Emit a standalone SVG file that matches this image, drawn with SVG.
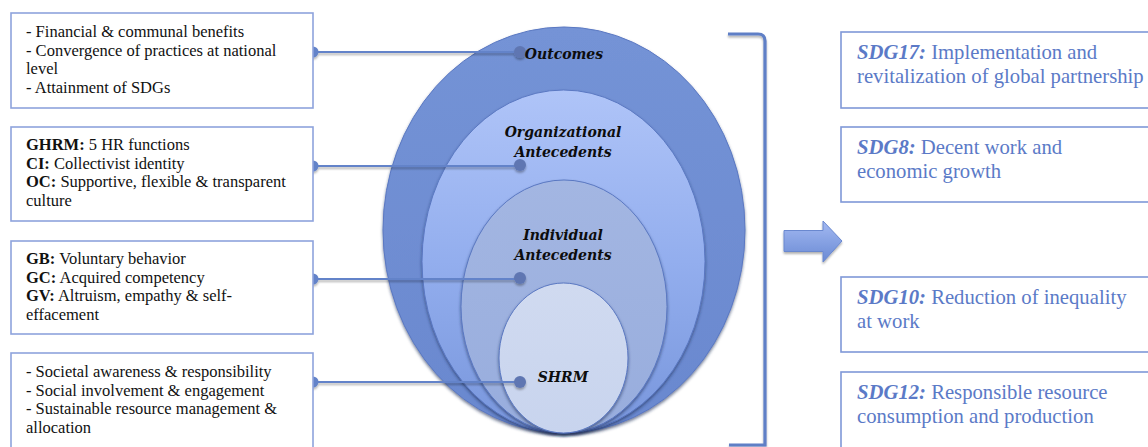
<svg xmlns="http://www.w3.org/2000/svg" width="1148" height="447" viewBox="0 0 1148 447">
<defs>
<linearGradient id="gOut" x1="0" y1="0" x2="0" y2="1"><stop offset="0" stop-color="#7493d6"/><stop offset="1" stop-color="#6a88cf"/></linearGradient>
<linearGradient id="gOrg" x1="0" y1="0" x2="0" y2="1"><stop offset="0" stop-color="#afc4f8"/><stop offset="0.5" stop-color="#93aeee"/><stop offset="1" stop-color="#7896dc"/></linearGradient>
<linearGradient id="gInd" x1="0" y1="0" x2="0" y2="1"><stop offset="0" stop-color="#a3b6e2"/><stop offset="1" stop-color="#98addd"/></linearGradient>
<linearGradient id="gShrm" x1="0" y1="0" x2="0" y2="1"><stop offset="0" stop-color="#d0daf0"/><stop offset="1" stop-color="#c8d4ee"/></linearGradient>
<linearGradient id="gArrow" x1="0" y1="0" x2="0" y2="1"><stop offset="0" stop-color="#a3b9f2"/><stop offset="1" stop-color="#6a8ad4"/></linearGradient>
<filter id="sh" x="-10%" y="-10%" width="120%" height="125%"><feDropShadow dx="0" dy="2" stdDeviation="1.5" flood-color="#1a2a55" flood-opacity="0.6"/></filter>
<filter id="shs" x="-10%" y="-50%" width="120%" height="200%"><feDropShadow dx="0" dy="2" stdDeviation="1.2" flood-color="#000" flood-opacity="0.3"/></filter>
</defs>
<style>
.lbox{fill:#fff;stroke:#8ea3dc;stroke-width:1.6}
.rbox{fill:#fff;stroke:#7f98d8;stroke-width:1.6}
.lt{font-family:"Liberation Serif","Times New Roman",serif;font-size:16.5px;fill:#111}
.rt{font-family:"Liberation Serif","Times New Roman",serif;font-size:20.7px;fill:#5b7ac7}
.b{font-weight:bold}
.bi{font-weight:bold;font-style:italic}
.el{font-family:"DejaVu Serif",serif;font-size:14px;font-weight:bold;font-style:italic;fill:#0d0d0d;text-anchor:middle}
.ring{stroke:#5a78c2;stroke-width:1}
.conn{stroke:#6483c9;stroke-width:2;fill:none}
.dotL{fill:#6483c9}
.dotR{fill:#5f76b2}
</style>

<g id="circles">
<ellipse cx="564" cy="230" rx="181" ry="203" fill="url(#gOut)" class="ring" filter="url(#sh)"/>
<ellipse cx="563.5" cy="261.5" rx="141.5" ry="171.5" fill="url(#gOrg)" class="ring" filter="url(#sh)"/>
<ellipse cx="564" cy="306.5" rx="103" ry="126.5" fill="url(#gInd)" class="ring" filter="url(#sh)"/>
<ellipse cx="563.5" cy="358" rx="64.5" ry="75" fill="url(#gShrm)" class="ring" filter="url(#sh)"/>
</g>

<g id="connectors" filter="url(#shs)">
<path class="conn" d="M313 52 H520"/>
<path class="conn" d="M313 166 H520"/>
<path class="conn" d="M313 279 H520"/>
<path class="conn" d="M313 382 H520"/>
<circle class="dotL" cx="313" cy="52" r="5.5"/>
<circle class="dotL" cx="313" cy="166" r="5.5"/>
<circle class="dotL" cx="313" cy="279" r="5.5"/>
<circle class="dotL" cx="313" cy="382" r="5.5"/>
<circle class="dotR" cx="520" cy="52" r="6"/>
<circle class="dotR" cx="520" cy="165" r="6"/>
<circle class="dotR" cx="520" cy="278" r="6"/>
<circle class="dotR" cx="520" cy="382" r="6"/>
</g>

<g id="label-outcomes"><text class="el" x="564" y="59">Outcomes</text></g>
<g id="label-org"><text class="el" x="563" y="137">Organizational</text><text class="el" x="563" y="157">Antecedents</text></g>
<g id="label-ind"><text class="el" x="563" y="240">Individual</text><text class="el" x="563" y="260">Antecedents</text></g>
<g id="label-shrm"><text class="el" x="563" y="382">SHRM</text></g>

<g id="box-outcomes">
<rect class="lbox" x="11" y="13" width="302" height="95"/>
<text class="lt" x="26" y="37">- Financial &amp; communal benefits</text>
<text class="lt" x="26" y="55.5">- Convergence of practices at national</text>
<text class="lt" x="26" y="74">level</text>
<text class="lt" x="26" y="92.5">- Attainment of SDGs</text>
</g>
<g id="box-org">
<rect class="lbox" x="11" y="127" width="302" height="94"/>
<text class="lt" x="26" y="150"><tspan class="b">GHRM:</tspan> 5 HR functions</text>
<text class="lt" x="26" y="168.5"><tspan class="b">CI:</tspan> Collectivist identity</text>
<text class="lt" x="26" y="187"><tspan class="b">OC:</tspan> Supportive, flexible &amp; transparent</text>
<text class="lt" x="26" y="205.5">culture</text>
</g>
<g id="box-ind">
<rect class="lbox" x="11" y="241" width="302" height="93"/>
<text class="lt" x="26" y="264"><tspan class="b">GB:</tspan> Voluntary behavior</text>
<text class="lt" x="26" y="282.5"><tspan class="b">GC:</tspan> Acquired competency</text>
<text class="lt" x="26" y="301"><tspan class="b">GV:</tspan> Altruism, empathy &amp; self-</text>
<text class="lt" x="26" y="319.5">effacement</text>
</g>
<g id="box-shrm">
<rect class="lbox" x="11" y="353" width="302" height="100"/>
<text class="lt" x="26" y="377">- Societal awareness &amp; responsibility</text>
<text class="lt" x="26" y="395.5">- Social involvement &amp; engagement</text>
<text class="lt" x="26" y="414">- Sustainable resource management &amp;</text>
<text class="lt" x="26" y="432.5">allocation</text>
</g>

<g id="bracket">
<path d="M728 34 H758 Q765 34 765 41 V445 H729" fill="none" stroke="#5f7fc6" stroke-width="3.2" filter="url(#shs)"/>
</g>

<g id="arrow">
<path d="M784 230.5 H823 V221 L842 241 L823 262 V251.5 H784 Z" fill="url(#gArrow)" stroke="#6a88cf" stroke-width="1" filter="url(#shs)"/>
</g>

<g id="sdg17">
<rect class="rbox" x="841" y="32" width="320" height="76"/>
<text class="rt" x="857" y="59"><tspan class="bi">SDG17:</tspan> Implementation and</text>
<text class="rt" x="857" y="83">revitalization of global partnership</text>
</g>
<g id="sdg8">
<rect class="rbox" x="841" y="127" width="320" height="75"/>
<text class="rt" x="857" y="154"><tspan class="bi">SDG8:</tspan> Decent work and</text>
<text class="rt" x="857" y="178">economic growth</text>
</g>
<g id="sdg10">
<rect class="rbox" x="841" y="277" width="320" height="75"/>
<text class="rt" x="857" y="304"><tspan class="bi">SDG10:</tspan> Reduction of inequality</text>
<text class="rt" x="857" y="328">at work</text>
</g>
<g id="sdg12">
<rect class="rbox" x="841" y="372" width="320" height="90"/>
<text class="rt" x="857" y="399"><tspan class="bi">SDG12:</tspan> Responsible resource</text>
<text class="rt" x="857" y="423">consumption and production</text>
</g>
</svg>
